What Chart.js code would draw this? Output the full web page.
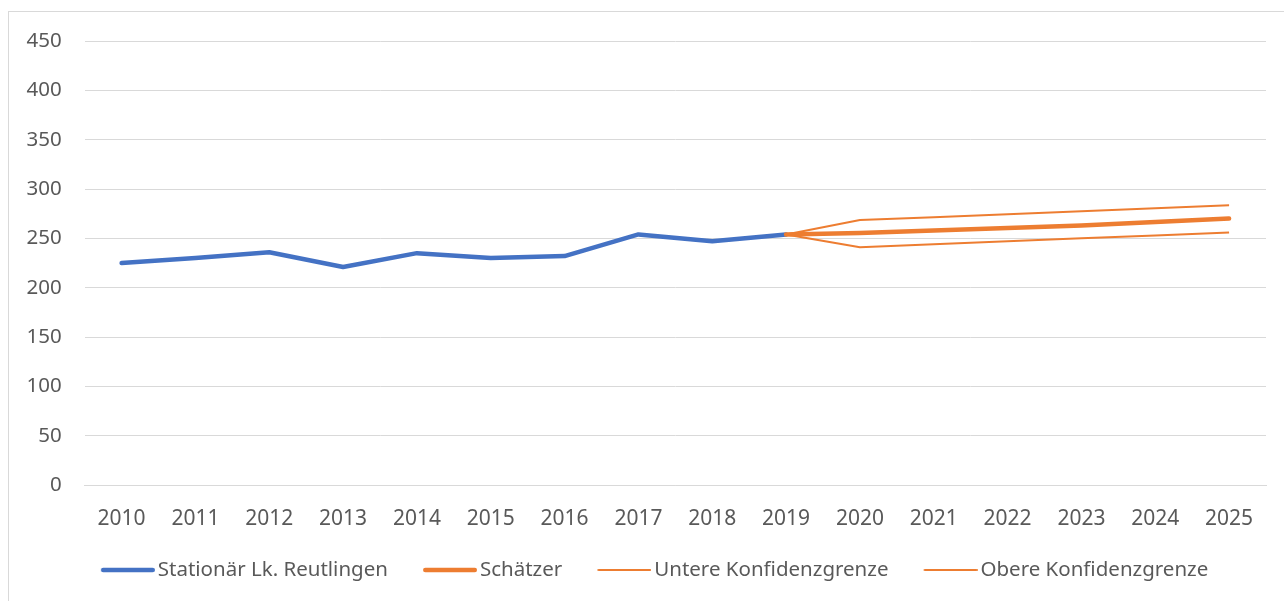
<!DOCTYPE html>
<html><head><meta charset="utf-8">
<script src="https://cdn.jsdelivr.net/npm/chart.js@4.4.1/dist/chart.umd.min.js"></script>
<style>
html,body{margin:0;padding:0;background:#fff;overflow:hidden;}
#frame{position:absolute;left:8px;top:11px;width:1300px;height:620px;border:1px solid #d9d9d9;box-sizing:border-box;}
#wrap{position:absolute;left:0;top:0;width:1284px;height:601px;}
</style></head>
<body>
<div id="frame"></div>
<div id="wrap"><canvas id="c" width="1284" height="601"></canvas></div>
<script>
const years = ['2010','2011','2012','2013','2014','2015','2016','2017','2018','2019','2020','2021','2022','2023','2024','2025'];
const stationaer = [225,230,236,221,235,230,232,254,247,254,null,null,null,null,null,null];
const schaetzer = [null,null,null,null,null,null,null,null,null,254,255.5,258,260.5,263,266.5,270];
const untere = [null,null,null,null,null,null,null,null,null,254,241,244,247,250,253,256];
const obere = [null,null,null,null,null,null,null,null,null,254,268.5,271.5,274.5,277.5,280.5,283.5];
const yTicks = [0,50,100,150,200,250,300,350,400,450];

const BLUE='#4472c4', ORANGE='#ed7d31';
function swatch(color, h){
  const c=document.createElement('canvas'); c.width=90; c.height=6;
  const x=c.getContext('2d'); x.strokeStyle=color; x.lineWidth=h; x.lineCap='round';
  x.beginPath(); x.moveTo(36+h/2,3); x.lineTo(90-h/2,3); x.stroke(); return c;
}
const widths=[4.5,4.5,2,2];
const FONT="'Noto Sans', 'Liberation Sans', sans-serif";
const shiftLegend={id:'shiftLegend',afterLayout(chart){const l=chart.legend; if(l){l.left+=5.5;l.right+=5.5;}}};
new Chart(document.getElementById('c'),{
  type:'line',
  data:{labels:years,datasets:[
    {label:'Stationär Lk. Reutlingen',data:stationaer,borderColor:BLUE,backgroundColor:BLUE,borderWidth:4.5,pointRadius:0,order:3,borderCapStyle:'round',borderJoinStyle:'round'},
    {label:'Schätzer',data:schaetzer,borderColor:ORANGE,backgroundColor:ORANGE,borderWidth:4.5,pointRadius:0,order:0,borderCapStyle:'round',borderJoinStyle:'round'},
    {label:'Untere Konfidenzgrenze',data:untere,borderColor:ORANGE,backgroundColor:ORANGE,borderWidth:2,pointRadius:0,order:1,borderJoinStyle:'round'},
    {label:'Obere Konfidenzgrenze',data:obere,borderColor:ORANGE,backgroundColor:ORANGE,borderWidth:2,pointRadius:0,order:2,borderJoinStyle:'round'}
  ]},
  plugins:[shiftLegend],
  options:{
    responsive:false,animation:false,
    layout:{padding:{left:3.5,right:18,top:41,bottom:10.75}},
    plugins:{
      tooltip:{enabled:false},
      legend:{position:'bottom',labels:{
        usePointStyle:true,pointStyleWidth:75.25,color:'#595959',font:{family:FONT,size:20.5},padding:6.5,
        generateLabels(chart){
          return chart.data.datasets.map((d,i)=>({text:d.label,pointStyle:swatch(d.borderColor,widths[i]),fillStyle:d.borderColor,strokeStyle:d.borderColor,lineWidth:0,datasetIndex:i,hidden:false,fontColor:'#595959'}));
        }
      }}
    },
    scales:{
      x:{offset:true,grid:{display:false,drawTicks:false},border:{color:'#d9d9d9'},ticks:{color:'#595959',font:{family:FONT,size:21},padding:21.5}},
      y:{min:0,max:450,afterBuildTicks(s){s.ticks=yTicks.map(v=>({value:v}));},
        grid:{color:'#d9d9d9',drawTicks:false,lineWidth:1},border:{display:false},
        ticks:{color:'#595959',font:{family:FONT,size:20.5},padding:23}}
    }
  }
});
</script>
</body></html>
